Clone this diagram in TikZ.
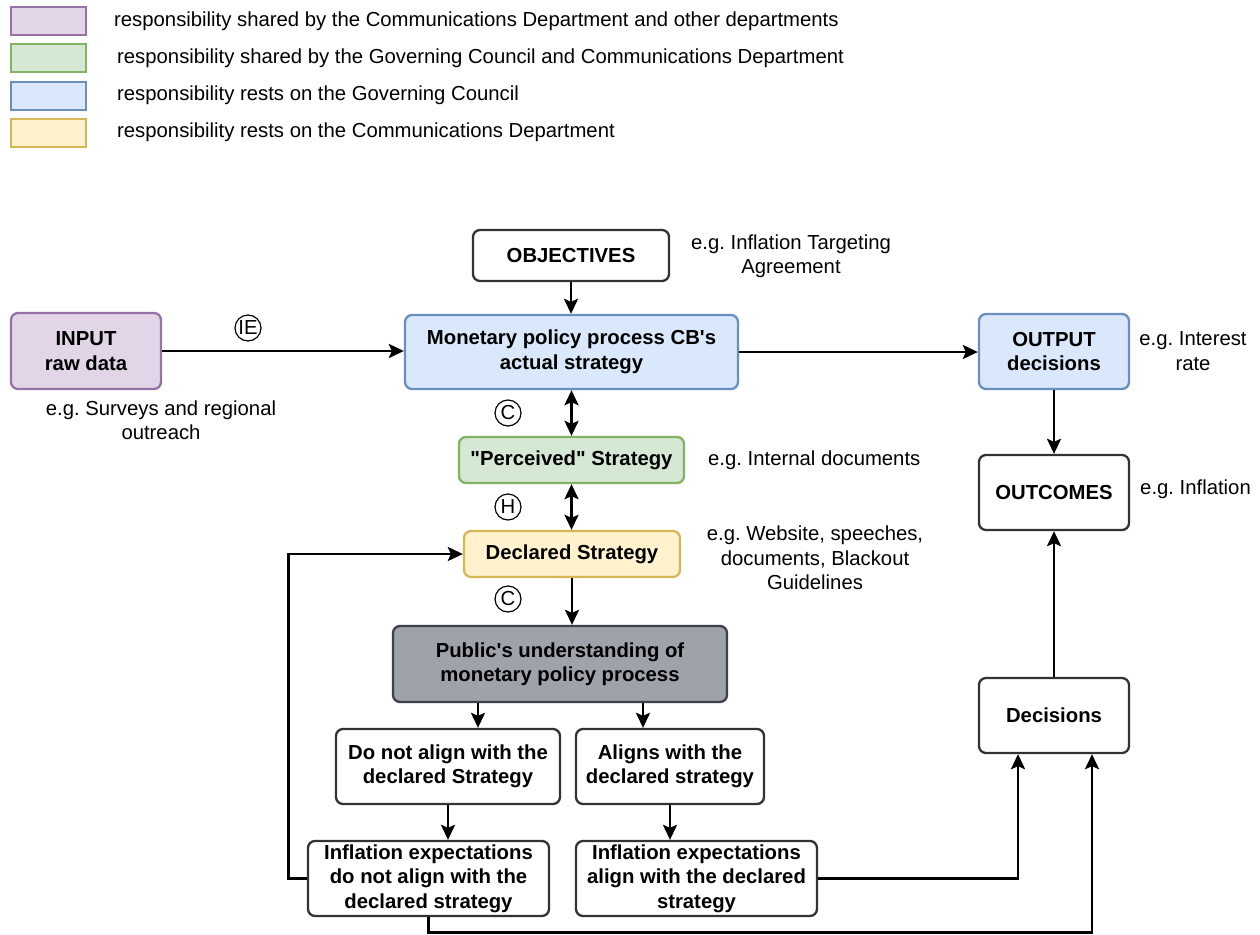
\documentclass[tikz,border=0pt]{standalone}
\usepackage{fontspec}
\setmainfont{Liberation Sans}
\usetikzlibrary{arrows.meta}

\definecolor{purplefill}{HTML}{E1D5E7}
\definecolor{purpleline}{HTML}{9673A6}
\definecolor{greenfill}{HTML}{D5E8D4}
\definecolor{greenline}{HTML}{82B366}
\definecolor{bluefill}{HTML}{DAE8FC}
\definecolor{blueline}{HTML}{6C8EBF}
\definecolor{yellowfill}{HTML}{FFF2CC}
\definecolor{yellowline}{HTML}{D6B656}
\definecolor{grayfill}{HTML}{9DA2AB}
\definecolor{grayline}{HTML}{3E434B}
\definecolor{boxline}{HTML}{333333}

\frenchspacing
\begin{document}
\begin{tikzpicture}[x=1pt, y=-1pt,
  every node/.style={font=\fontsize{20.3}{24.5}\selectfont},
  box/.style={draw=boxline, fill=white, line width=2.3pt, rounded corners=7pt,
    inner sep=0pt, align=center, font=\fontsize{20.3}{24.5}\selectfont\bfseries},
  legbox/.style={draw, line width=1.3pt, minimum width=75pt, minimum height=28pt, inner sep=0pt},
  note/.style={align=center, inner sep=0pt},
  legtext/.style={anchor=west, inner sep=0pt},
  tag/.style={circle, draw, line width=1.2pt, minimum size=26pt, inner sep=0pt},
  tip/.tip={Stealth[length=15pt,width=14pt,inset=3pt]},
  conn/.style={line width=2.8pt, -tip},
  both/.style={line width=2.8pt, tip-tip},
]
\useasboundingbox (0,0) rectangle (1260,934);

% legend
\node[legbox, draw=purpleline, fill=purplefill] (lg1) at (48.5,21) {};
\node[legbox, draw=greenline, fill=greenfill] (lg2) at (48.5,58) {};
\node[legbox, draw=blueline, fill=bluefill] (lg3) at (48.5,96) {};
\node[legbox, draw=yellowline, fill=yellowfill] (lg4) at (48.5,133) {};
\node[legtext] (lt1) at (114,21) {responsibility shared by the Communications Department and other departments};
\node[legtext] (lt2) at (117,58) {responsibility shared by the Governing Council and Communications Department};
\node[legtext] (lt3) at (117,95) {responsibility rests on the Governing Council};
\node[legtext] (lt4) at (117,132) {responsibility rests on the Communications Department};

% top row
\node[box, minimum width=196pt, minimum height=51pt] (obj) at (571,255.5) {OBJECTIVES};
\node[note] (objnote) at (791,256) {e.g. Inflation Targeting\\Agreement};

\node[box, draw=purpleline, fill=purplefill, minimum width=150pt, minimum height=76pt] (input) at (86,351) {INPUT\\raw data};
\node[note] (innote) at (161,420) {e.g. Surveys and regional\\outreach};
\node[tag] (ie) at (248,328) {IE};

\node[box, draw=blueline, fill=bluefill, minimum width=333pt, minimum height=74pt] (mono) at (571.5,352) {Monetary policy process CB\textquotesingle s\\actual strategy};

\node[box, draw=blueline, fill=bluefill, minimum width=150pt, minimum height=75pt] (output) at (1054,351.5) {OUTPUT\\decisions};
\node[note] (outnote) at (1193,351) {e.g. Interest\\rate};

% strategy chain
\node[box, draw=greenline, fill=greenfill, minimum width=225pt, minimum height=46pt] (perc) at (571.5,460) {\textquotedbl Perceived\textquotedbl\ Strategy};
\node[note, anchor=west] (percnote) at (708,460) {e.g. Internal documents};
\node[box, draw=yellowline, fill=yellowfill, minimum width=216pt, minimum height=46pt] (decl) at (572,554) {Declared Strategy};
\node[note] (declnote) at (815,558) {e.g. Website, speeches,\\documents, Blackout\\Guidelines};

\node[tag] (c1) at (508,413) {C};
\node[tag] (h) at (508,507) {H};
\node[tag] (c2) at (508,599) {C};

\node[box, draw=grayline, fill=grayfill, minimum width=334pt, minimum height=76pt] (public) at (560,664) {Public\textquotesingle s understanding of\\monetary policy process};

\node[box, minimum width=224pt, minimum height=75pt] (nalign) at (448,766.5) {Do not align with the\\declared Strategy};
\node[box, minimum width=188pt, minimum height=75pt] (yalign) at (670,766.5) {Aligns with the\\declared strategy};

\node[box, minimum width=241pt, minimum height=75pt] (infno) at (428.5,878.5) {Inflation expectations\\do not align with the\\declared strategy};
\node[box, minimum width=241pt, minimum height=75pt] (infyes) at (696.5,878.5) {Inflation expectations\\align with the declared\\strategy};

% right column
\node[box, minimum width=150pt, minimum height=75pt] (outc) at (1054,492.5) {OUTCOMES};
\node[note, anchor=west] (outcnote) at (1140,489) {e.g. Inflation};
\node[box, minimum width=150pt, minimum height=75pt] (dec) at (1054,715.5) {Decisions};

% helper columns for off-centre arrows
\coordinate (colA) at (478,0);
\coordinate (colB) at (643,0);

% connectors
\draw[conn] (obj.south) -- (obj.south |- mono.north);
\draw[conn] (input.east) -- (input.east -| mono.west);
\draw[conn] (mono.east) -- (mono.east -| output.west);
\draw[both] (mono.south -| perc.north) -- (perc.north);
\draw[both] (perc.south) -- (perc.south |- decl.north);
\draw[conn] (decl.south) -- (decl.south |- public.north);
\draw[conn] (public.south -| colA) -- (nalign.north -| colA);
\draw[conn] (public.south -| colB) -- (yalign.north -| colB);
\draw[conn] (nalign.south) -- (nalign.south |- infno.north);
\draw[conn] (yalign.south) -- (yalign.south |- infyes.north);
\draw[conn] (output.south) -- (outc.north);
\draw[conn] (dec.north) -- (outc.south);
\draw[conn] (infno.west) -- ++(-18,0) |- (decl.west);
\draw[conn] (infyes.east) -| ([xshift=-36pt]dec.south);
\draw[conn] (infno.south) -- ++(0,15) -| ([xshift=38pt]dec.south);
\end{tikzpicture}
\end{document}
